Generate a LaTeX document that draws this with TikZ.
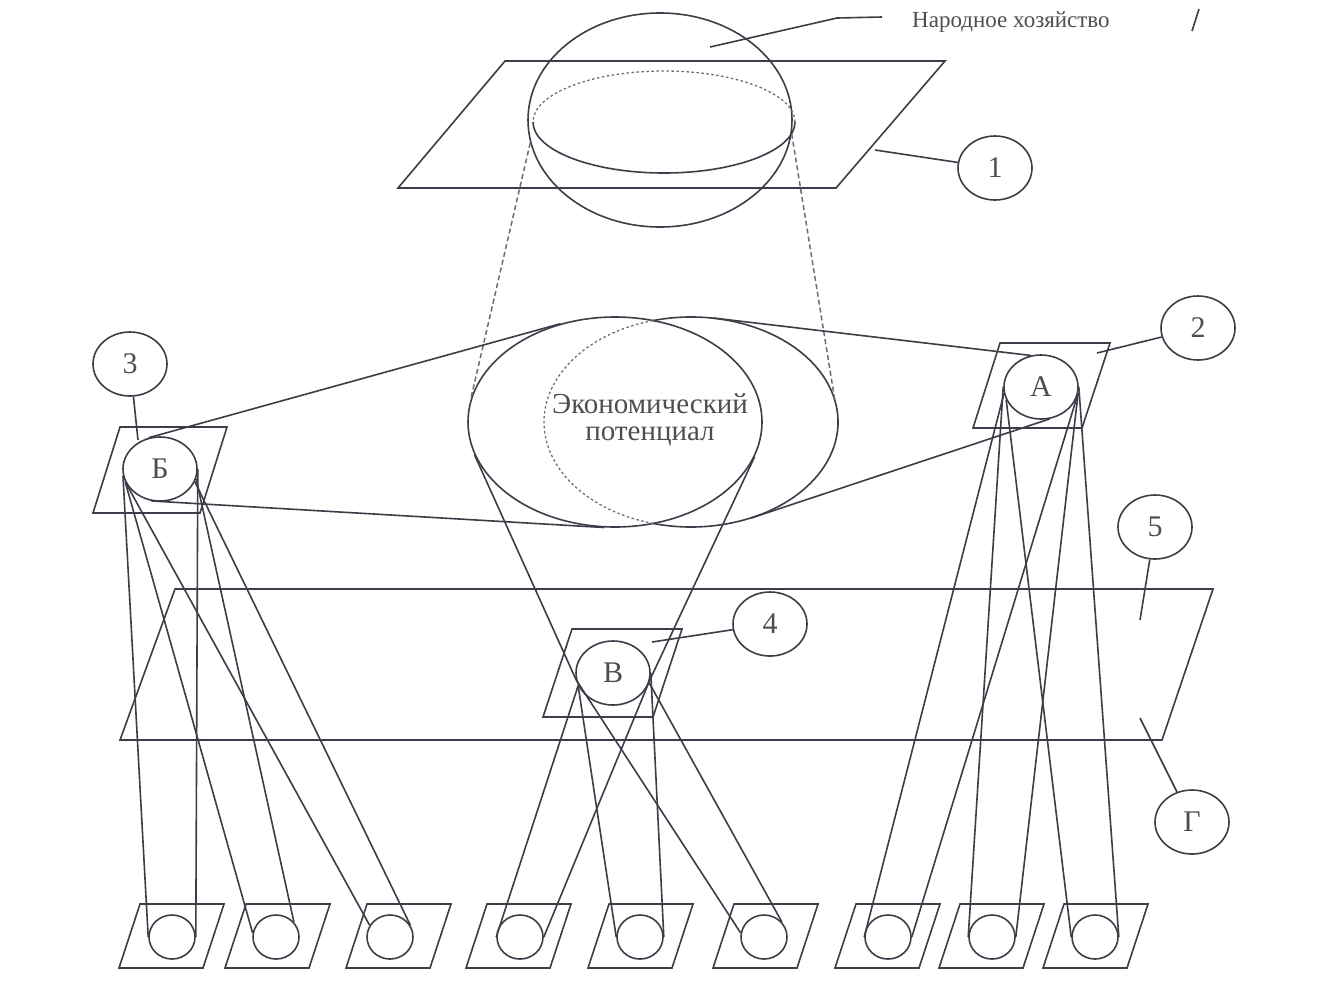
\documentclass[tikz,border=0pt]{standalone}
\usepackage{fontspec}
\setmainfont{Liberation Serif}
\usetikzlibrary{shapes.geometric,calc}
\definecolor{lc}{RGB}{62,60,72}
\definecolor{tc}{RGB}{78,78,78}
\definecolor{dc}{RGB}{110,110,116}
\begin{document}
\begin{tikzpicture}[x=1pt,y=-1pt,
  edge/.style={draw=lc,line width=1.6pt},
  dsh/.style={draw=dc,line width=1.5pt,dash pattern=on 5pt off 3pt},
  dotl/.style={draw=dc,line width=1.3pt,dash pattern=on 2.5pt off 2.5pt},
  lbl/.style={ellipse,draw=lc,line width=1.6pt,minimum width=74pt,minimum height=64pt,inner sep=0pt,text=tc,font=\fontsize{30}{30}\selectfont},
  bot/.style={ellipse,draw=lc,line width=1.6pt,minimum width=46pt,minimum height=44pt,inner sep=0pt},
  big/.style={ellipse,minimum width=294pt,minimum height=210pt,inner sep=0pt}]
\fill[white] (0,0) rectangle (1332,989);

% ---------- top plane with sphere ----------
\draw[edge] (505,61) -- (945,61) -- (836,188) -- (398,188) -- cycle;
\node[ellipse,draw=lc,line width=1.6pt,minimum width=264pt,minimum height=214pt,inner sep=0pt] (S) at (660,120) {};
\draw[edge] ([shift={(180:131pt and 51pt)}]664,122) arc[start angle=180,end angle=360,x radius=131pt,y radius=51pt];
\draw[dotl] ([shift={(0:131pt and 51pt)}]664,122) arc[start angle=0,end angle=180,x radius=131pt,y radius=51pt];

\node[text=tc,font=\fontsize{23}{23}\selectfont,anchor=west,inner sep=0pt] (nh) at (912,22) {Народное хозяйство};
\coordinate (sp) at (710,47);
\coordinate (nhk) at (837,18);
\coordinate (nhe) at (882,17);
\draw[edge] (sp) -- (nhk) -- (nhe);
\coordinate (m1) at (1199,9);
\coordinate (m2) at (1192,31);
\draw[edge] (m1) -- (m2);

\node[lbl] (c1) at (995,168) {1};
\coordinate (p1) at (875,150);
\draw[edge] (p1) -- (c1);

% ---------- economic potential ----------
\node[big,draw=lc,line width=1.6pt] (EL) at (615,422) {};
\node[big] (ER) at (691,422) {};
\draw[edge] ([shift={(105:147pt and 105pt)}]ER.center) arc[start angle=105,end angle=-105,x radius=147pt,y radius=105pt];
\draw[dotl] ([shift={(105:147pt and 105pt)}]ER.center) arc[start angle=105,end angle=255,x radius=147pt,y radius=105pt];
\node[text=tc,align=center,font=\fontsize{29}{27}\selectfont] (ep) at (650,420) {Экономический\\потенциал};

\draw[dsh] (S.190) -- (EL.171);
\draw[dsh] (S.-6) -- (ER.9);

% ---------- big plane 5 ----------
\draw[edge] (175,589) -- (1213,589) -- (1162,740) -- (120,740) -- cycle;
\node[lbl] (c5) at (1155,527) {5};
\coordinate (p5) at (1140,620);
\draw[edge] (p5) -- (c5);
\node[lbl] (cg) at (1192,822) {Г};
\coordinate (pg) at (1140,718);
\draw[edge] (pg) -- (cg);

% ---------- node A ----------
\draw[edge] (1000,343) -- (1110,343) -- (1082,428) -- (973,428) -- cycle;
\node[lbl] (nA) at (1041,387) {А};
\node[lbl] (c2) at (1198,328) {2};
\coordinate (p2) at (1097,353);
\draw[edge] (p2) -- (c2);

% ---------- node B (Б) ----------
\draw[edge] (120,427) -- (227,427) -- (200,513) -- (93,513) -- cycle;
\node[lbl] (nB) at (160,469) {Б};
\node[lbl] (c3) at (130,364) {3};
\coordinate (p3) at (138,440);
\draw[edge] (p3) -- (c3);

% ---------- node V (В) ----------
\draw[edge] (572,629) -- (682,629) -- (653,717) -- (543,717) -- cycle;
\node[lbl] (nV) at (613,673) {В};
\node[lbl] (c4) at (770,624) {4};
\coordinate (p4) at (652,642);
\draw[edge] (p4) -- (c4);

% ---------- bottom row ----------
\foreach \i/\cx/\px in {1/172/171,2/276/277,3/390/398,4/520/518,5/640/640,6/764/765,7/888/887,8/992/991,9/1095/1095} {
  \draw[edge] (\px-31,904) -- (\px+53,904) -- (\px+32,968) -- (\px-52,968) -- cycle;
  \node[bot] (b\i) at (\cx,937) {};
}

% ---------- connectors ----------
\draw[edge] (nB.110) -- (EL.119);
\draw[edge] (nB.255) -- (EL.264);
\draw[edge] (ER.78) -- (nA.108);
\draw[edge] (ER.-58) -- (nA.-75);
\draw[edge] (EL.193) -- (nV.190);
\draw[edge] (EL.-14) -- (nV.-10);

\draw[edge] (nB.190) -- (b1.west);
\draw[edge] (nB.200) -- (b2.170);
\draw[edge] (nB.205) -- (b3.150);
\draw[edge] (nB.east) -- (b1.east);
\draw[edge] (nB.-15) -- (b2.40);
\draw[edge] (nB.-20) -- (b3.30);

\draw[edge] (nV.200) -- (b4.west);
\draw[edge] (nV.-10) -- (b4.east);
\draw[edge] (nV.200) -- (b5.west);
\draw[edge] (nV.east) -- (b5.east);
\draw[edge] (nV.190) -- (b6.170);
\draw[edge] (nV.-15) -- (b6.40);

\draw[edge] (nA.190) -- (b7.west);
\draw[edge] (nA.-10) -- (b7.east);
\draw[edge] (nA.west) -- (b8.west);
\draw[edge] (nA.-10) -- (b8.east);
\draw[edge] (nA.200) -- (b9.west);
\draw[edge] (nA.east) -- (b9.east);
\end{tikzpicture}
\end{document}
